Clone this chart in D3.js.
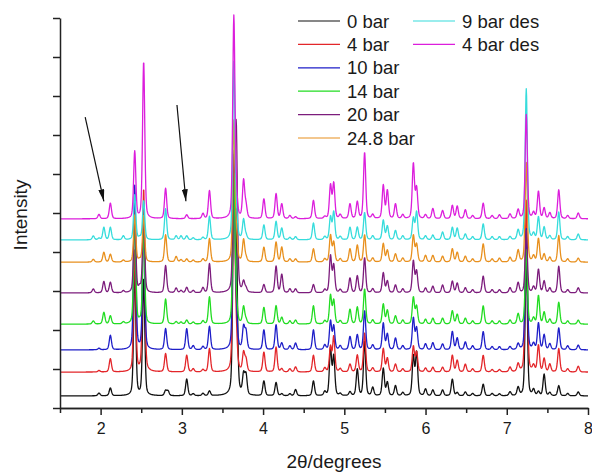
<!DOCTYPE html>
<html>
<head>
<meta charset="utf-8">
<script src="https://cdn.jsdelivr.net/npm/d3@7"></script>
<style>
  body { margin: 0; background: #fff; }
  text { font-family: Arial, "Liberation Sans", sans-serif; fill: #1a1a1a; }
</style>
</head>
<body>
<div id="chart"></div>
<script>

// series, bottom to top, same order as the legend
var seriesNames = ["0 bar", "4 bar", "10 bar", "14 bar", "20 bar", "24.8 bar", "9 bar des", "4 bar des"];
var seriesColors = ["#111111", "#e3262a", "#1e1ec8", "#22dc22", "#7c1c7c", "#e8901e", "#36dcdc", "#dc1edc"];
var baseOffsets = [0.31, 0.92, 1.49, 2.15, 2.95, 3.74, 4.31, 4.85];

// peak positions (2theta, degrees)
var peakPositions = [1.91, 1.98, 2.04, 2.12, 2.28, 2.42, 2.48, 2.53, 2.80, 2.83,
  2.93, 2.99, 3.06, 3.14, 3.26, 3.34, 3.64, 3.67, 3.76, 3.79,
  4.01, 4.16, 4.23, 4.33, 4.40, 4.62, 4.76, 4.83, 4.87, 4.95,
  5.07, 5.16, 5.25, 5.35, 5.48, 5.53, 5.63, 5.72, 5.85, 5.89,
  6.00, 6.09, 6.21, 6.33, 6.39, 6.49, 6.58, 6.71, 6.82, 6.91,
  7.04, 7.14, 7.24, 7.33, 7.39, 7.46, 7.53, 7.64, 7.75, 7.88];

// peak heights per series (one per position above)
var h0bar = [0, 0.07, 0, 0.2, 0, 3.2, 0, 3.0, 0.13, 0.12,
  0, 0, 0.43, 0.05, 0.06, 0.12, 5.0, 4.0, 0.5, 0.5,
  0.38, 0.34, 0.05, 0.05, 0.16, 0.38, 0.1, 1.2, 1.0, 0.05,
  0.1, 0.68, 1.4, 0.21, 0.7, 0.34, 0.26, 0.08, 1.0, 1.1,
  0.17, 0.15, 0.15, 0.43, 0.08, 0.1, 0.06, 0.3, 0.06, 0.05,
  0.1, 0.21, 3.6, 0.15, 0.1, 0.55, 0.08, 0.26, 0.06, 0.1];
var h4bar = [0, 0.04, 0, 0.34, 0, 3.1, 0, 4.7, 0.47, 0,
  0, 0, 0.43, 0.08, 0.06, 0.6, 5.3, 0.8, 0.47, 0.3,
  0.51, 0.64, 0.08, 0.08, 0.13, 0.43, 0.1, 0.64, 0.9, 0.08,
  0.2, 0.43, 1.0, 0.1, 0.6, 0.35, 0.2, 0.08, 0.65, 0.5,
  0.1, 0.12, 0.12, 0.43, 0.3, 0.2, 0.08, 0.43, 0.06, 0.06,
  0.12, 0.2, 4.4, 0.15, 0.68, 0.34, 0.2, 0.6, 0.08, 0.15];
var h10bar = [0, 0.04, 0, 0.37, 0, 4.2, 0, 3.3, 0.54, 0,
  0, 0, 0.54, 0.1, 0.08, 0.6, 4.9, 0.8, 0.56, 0.45,
  0.51, 0.64, 0.17, 0.1, 0.17, 0.51, 0.12, 0.73, 0.6, 0.1,
  0.34, 0.38, 1.0, 0.12, 0.68, 0.4, 0.3, 0.1, 0.81, 0.55,
  0.15, 0.18, 0.15, 0.47, 0.3, 0.2, 0.1, 0.47, 0.08, 0.08,
  0.08, 0.15, 3.1, 0.15, 0.68, 0.38, 0.15, 0.56, 0.1, 0.12];
var h14bar = [0.08, 0, 0.3, 0.21, 0.05, 2.7, 0.05, 2.4, 0.64, 0,
  0.06, 0.05, 0.1, 0.05, 0.08, 0.7, 3.8, 0.5, 0.43, 0.1,
  0.43, 0.47, 0.17, 0.08, 0.1, 0.47, 0.08, 0.73, 0.6, 0.08,
  0.38, 0.43, 0.9, 0.1, 0.51, 0.35, 0.21, 0.1, 0.68, 0.45,
  0.12, 0.15, 0.15, 0.34, 0.25, 0.15, 0.08, 0.47, 0.08, 0.08,
  0.1, 0.26, 1.9, 0.15, 0.73, 0.3, 0.12, 0.56, 0.08, 0.1];
var h20bar = [0.1, 0, 0.29, 0.27, 0.05, 2.1, 0.12, 2.0, 0.7, 0,
  0.12, 0.06, 0.14, 0.06, 0.13, 0.75, 3.0, 4.0, 0.26, 0.1,
  0.21, 0.68, 0.47, 0.1, 0.1, 0.21, 0.08, 0.94, 0.7, 0.08,
  0.38, 0.43, 0.9, 0.1, 0.51, 0.3, 0.2, 0.1, 0.81, 0.55,
  0.12, 0.17, 0.2, 0.3, 0.25, 0.13, 0.08, 0.43, 0.08, 0.08,
  0.13, 0.26, 1.6, 0.15, 0.6, 0.3, 0.12, 0.68, 0.08, 0.13];
var h24bar = [0.07, 0, 0.25, 0.2, 0.05, 1.2, 0.05, 1.2, 0.7, 0,
  0.14, 0.06, 0.08, 0.05, 0.08, 0.6, 3.56, 0.6, 0.56, 0.1,
  0.38, 0.51, 0.38, 0.08, 0.08, 0.34, 0.08, 0.68, 0.5, 0.08,
  0.34, 0.43, 0.7, 0.1, 0.47, 0.3, 0.21, 0.1, 0.68, 0.45,
  0.17, 0.17, 0.15, 0.34, 0.25, 0.15, 0.08, 0.47, 0.08, 0.1,
  0.12, 0.3, 2.55, 0.15, 0.6, 0.2, 0.12, 0.68, 0.08, 0.1];
var h9des = [0.1, 0.04, 0.32, 0.32, 0.1, 1.15, 0.05, 1.0, 0.8, 0,
  0.1, 0.1, 0.1, 0.05, 0.06, 0.6, 4.5, 0.6, 0.5, 0.1,
  0.38, 0.47, 0.3, 0.06, 0.08, 0.43, 0.08, 0.58, 0.71, 0.08,
  0.32, 0.32, 0.7, 0.1, 0.5, 0.35, 0.24, 0.1, 0.55, 0.71,
  0.1, 0.12, 0.2, 0.32, 0.3, 0.15, 0.08, 0.41, 0.08, 0.08,
  0.08, 0.24, 3.87, 0.15, 0.58, 0.32, 0.1, 0.71, 0.08, 0.15];
var h4des = [0, 0.11, 0, 0.4, 0, 1.72, 0, 4.03, 0.78, 0,
  0, 0, 0.1, 0, 0.13, 0.72, 5.15, 0.5, 0.95, 0.3,
  0.51, 0.64, 0.38, 0.08, 0.05, 0.47, 0.05, 0.85, 0.9, 0.1,
  0.38, 0.43, 1.7, 0.1, 0.85, 0.72, 0.38, 0.1, 1.4, 0.77,
  0.1, 0.26, 0.21, 0.34, 0.32, 0.23, 0.08, 0.4, 0.08, 0.1,
  0.12, 0.23, 2.67, 0.15, 0.7, 0.27, 0.15, 0.74, 0.08, 0.15];
var seriesHeights = [h0bar, h4bar, h10bar, h14bar, h20bar, h24bar, h9des, h4des];

var xMajorTicks = [2, 3, 4, 5, 6, 7, 8];
var xMinorTicks = [1.5, 2.5, 3.5, 4.5, 5.5, 6.5, 7.5];
var yTicks = [0, 1, 2, 3, 4, 5, 6, 7, 8, 9, 10];

// arrows pointing at the new peaks: [x1, y1, x2, y2] in data units
var arrows = [[1.81, 7.46, 2.04, 5.3], [2.94, 7.77, 3.05, 5.3]];

var svgWidth = 592;
var svgHeight = 472;
var chartMargin = { top: 18, right: 4, bottom: 64, left: 60 };
var chartWidth = svgWidth - chartMargin.left - chartMargin.right;
var chartHeight = svgHeight - chartMargin.top - chartMargin.bottom;

var svg = d3.select("#chart").append("svg")
  .attr("width", svgWidth)
  .attr("height", svgHeight);

var chartGroup = svg.append("g")
  .attr("transform", `translate(${chartMargin.left}, ${chartMargin.top})`);

var xScale = d3.scaleLinear().domain([1.5, 8]).range([0, chartWidth]);
var yScale = d3.scaleLinear().domain([0, 10]).range([chartHeight, 0]);

// pattern = offset + sum of narrow peaks at the read positions
var halfWidth = 0.016, eta = 0.35;
var grid = d3.range(1.5, 8.0001, 0.004);

function pattern(k) {
  var hs = seriesHeights[k];
  return grid.map(function(x) {
    var y = baseOffsets[k];
    peakPositions.forEach(function(p, i) {
      if (!hs[i]) return;
      var d = (x - p) / halfWidth;
      y += hs[i] * (eta / (1 + d * d) + (1 - eta) * Math.exp(-Math.LN2 * d * d));
    });
    return [x, y];
  });
}

var line = d3.line()
  .x(d => xScale(d[0]))
  .y(d => yScale(d[1]));

seriesNames.forEach(function(name, k) {
  chartGroup.append("path")
    .datum(pattern(k))
    .attr("fill", "none")
    .attr("stroke", seriesColors[k])
    .attr("stroke-width", 1.3)
    .attr("stroke-linejoin", "round")
    .attr("d", line);
});

// axes
var axisColor = "#222";
chartGroup.append("g")
  .attr("transform", `translate(0, ${chartHeight})`)
  .call(d3.axisBottom(xScale).tickValues(xMinorTicks).tickSize(5).tickSizeOuter(0).tickFormat(""));
chartGroup.append("g")
  .attr("transform", `translate(0, ${chartHeight})`)
  .call(d3.axisBottom(xScale).tickValues(xMajorTicks).tickSize(7).tickSizeOuter(0).tickPadding(8)
    .tickFormat(d3.format("d")))
  .call(g => g.selectAll("text").style("font-size", "16px").attr("fill", "#1a1a1a"));
chartGroup.append("g")
  .call(d3.axisLeft(yScale).tickValues(yTicks).tickSize(7).tickSizeOuter(0).tickFormat(""));

chartGroup.selectAll(".domain, .tick line")
  .attr("stroke", axisColor)
  .attr("stroke-width", 1.5);

// axis titles
svg.append("text")
  .attr("x", 334)
  .attr("y", 468)
  .style("text-anchor", "middle")
  .style("font-size", "19px")
  .text("2θ/degrees");

svg.append("text")
  .attr("transform", "translate(27, 215) rotate(-90)")
  .style("text-anchor", "middle")
  .style("font-size", "19px")
  .text("Intensity");

// arrows
svg.append("defs").append("marker")
  .attr("id", "head")
  .attr("markerUnits", "userSpaceOnUse")
  .attr("viewBox", "0 0 12 6")
  .attr("refX", 12)
  .attr("refY", 3)
  .attr("markerWidth", 12)
  .attr("markerHeight", 6)
  .attr("orient", "auto")
  .append("path")
  .attr("d", "M0,0 L12,3 L0,6 Z")
  .attr("fill", "#111");

chartGroup.selectAll(".arrow")
  .data(arrows)
  .enter()
  .append("line")
  .attr("x1", d => xScale(d[0]))
  .attr("y1", d => yScale(d[1]))
  .attr("x2", d => xScale(d[2]))
  .attr("y2", d => yScale(d[3]))
  .attr("stroke", "#111")
  .attr("stroke-width", 1.2)
  .attr("marker-end", "url(#head)");

// legend, two columns
var legendCols = [[0, 1, 2, 3, 4, 5], [6, 7]];
var legend = svg.append("g");
legendCols.forEach(function(col, c) {
  var x0 = c === 0 ? 298 : 413;
  col.forEach(function(k, r) {
    var y = 21 + r * 23.4;
    legend.append("line")
      .attr("x1", x0).attr("x2", x0 + 42)
      .attr("y1", y).attr("y2", y)
      .attr("stroke", seriesColors[k])
      .attr("stroke-width", 1.2);
    legend.append("text")
      .attr("x", x0 + 49)
      .attr("y", y)
      .attr("dy", "0.36em")
      .style("font-size", "18.5px")
      .text(seriesNames[k]);
  });
});

</script>
</body>
</html>
